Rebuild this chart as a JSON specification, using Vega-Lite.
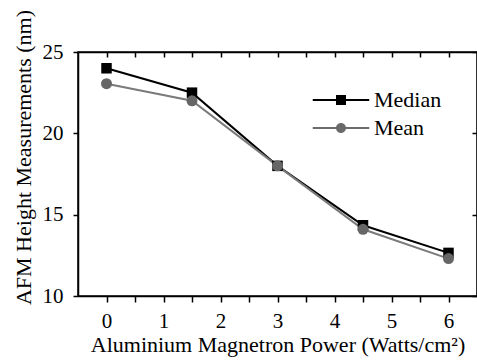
{
  "$schema": "https://vega.github.io/schema/vega-lite/v6.json",
  "autosize": "none",
  "width": 399,
  "height": 244,
  "padding": {"left": 78, "top": 52, "right": 0, "bottom": 65},
  "config": {
    "view": {"stroke": "black", "strokeWidth": 1.5},
    "font": "Liberation Serif",
    "axis": {"grid": false}
  },
  "data": {
    "values": [
      {"power": 0, "height": 24.0, "series": "Median"},
      {"power": 1.5, "height": 22.5, "series": "Median"},
      {"power": 3, "height": 18.0, "series": "Median"},
      {"power": 4.5, "height": 14.35, "series": "Median"},
      {"power": 6, "height": 12.65, "series": "Median"},
      {"power": 0, "height": 23.05, "series": "Mean"},
      {"power": 1.5, "height": 22.0, "series": "Mean"},
      {"power": 3, "height": 18.0, "series": "Mean"},
      {"power": 4.5, "height": 14.1, "series": "Mean"},
      {"power": 6, "height": 12.3, "series": "Mean"}
    ]
  },
  "layer": [
    {
      "mark": {"type": "line", "strokeWidth": 2},
      "encoding": {
        "x": {"field": "power", "type": "quantitative", "scale": {"domain": [-0.5, 6.5], "nice": false, "zero": false},
          "axis": {"orient": "bottom", "values": [0, 0.5, 1, 1.5, 2, 2.5, 3, 3.5, 4, 4.5, 5, 5.5, 6],
            "labelExpr": "datum.value % 1 === 0 ? format(datum.value, 'd') : ''", "tickSize": 6, "labelPadding": 8,
            "domainColor": "black", "domainWidth": 1.5, "tickColor": "black", "tickWidth": 1.5,
            "labelFont": "Liberation Serif", "labelFontSize": 21, "labelColor": "black",
            "titleFont": "Liberation Serif", "titleFontSize": 22, "titleFontWeight": "normal", "titleColor": "black",
            "title": "Aluminium Magnetron Power (Watts/cm²)", "titlePadding": 3}},
        "y": {"field": "height", "type": "quantitative", "scale": {"domain": [10, 25], "nice": false, "zero": false},
          "axis": {"orient": "left", "values": [10, 15, 20, 25], "tickSize": 5, "labelPadding": 10,
            "domainColor": "black", "domainWidth": 1.5, "tickColor": "black", "tickWidth": 1.5,
            "labelFont": "Liberation Serif", "labelFontSize": 21, "labelColor": "black",
            "titleFont": "Liberation Serif", "titleFontSize": 22, "titleFontWeight": "normal", "titleColor": "black",
            "title": "AFM Height Measurements (nm)", "titlePadding": 7, "titleY": 105}},
        "stroke": {"field": "series", "type": "nominal", "scale": {"domain": ["Median", "Mean"], "range": ["#000000", "#7a7a7a"]},
          "legend": {"orient": "none", "legendX": 252, "legendY": 37, "title": null, "symbolSize": 100,
            "labelOffset": 22, "labelFont": "Liberation Serif", "labelFontSize": 22, "labelColor": "black",
            "rowPadding": 6, "padding": 0, "symbolStrokeWidth": 0, "symbolOpacity": 1,
            "encode": {"symbols": {"update": {
              "shape": {"signal": "datum.value === 'Median' ? 'M-5.65,-0.2L5.65,-0.2L5.65,0.2L-5.65,0.2Z M-1,-1L1,-1L1,1L-1,1Z' : 'M-5.65,-0.2L5.65,-0.2L5.65,0.2L-5.65,0.2Z M-1,0A1,1 0 1,1 1,0A1,1 0 1,1 -1,0Z'"},
              "fill": {"signal": "datum.value === 'Median' ? '#000000' : '#6a6a6a'"},
              "fillOpacity": {"value": 1},
              "strokeWidth": {"value": 0}}}}}},
        "order": {"field": "power", "type": "quantitative"}
      }
    },
    {
      "transform": [{"filter": "datum.series === 'Median'"}],
      "mark": {"type": "point", "shape": "square", "filled": true, "fill": "#000000", "opacity": 1, "strokeWidth": 0, "size": 110},
      "encoding": {
        "x": {"field": "power", "type": "quantitative",
          "axis": {"orient": "top", "values": [0, 0.5, 1, 1.5, 2, 2.5, 3, 3.5, 4, 4.5, 5, 5.5, 6],
            "labels": true, "labelColor": "transparent", "labelFontSize": 2, "ticks": true, "domain": true, "tickSize": -5,
            "domainColor": "black", "domainWidth": 1.5, "tickColor": "black", "tickWidth": 1.5, "zindex": 2,
            "title": null}},
        "y": {"field": "height", "type": "quantitative",
          "axis": {"orient": "right", "values": [10, 15, 20, 25], "labels": true, "labelColor": "transparent", "labelFontSize": 2, "ticks": true, "domain": true, "tickSize": -5,
            "domainColor": "black", "domainWidth": 1.5, "tickColor": "black", "tickWidth": 1.5, "zindex": 2, "title": null}}
      }
    },
    {
      "transform": [{"filter": "datum.series === 'Mean'"}],
      "mark": {"type": "point", "shape": "circle", "filled": true, "fill": "#666666", "opacity": 1, "strokeWidth": 0, "size": 121},
      "encoding": {
        "x": {"field": "power", "type": "quantitative", "axis": null},
        "y": {"field": "height", "type": "quantitative", "axis": null}
      }
    }
  ],
  "resolve": {"axis": {"x": "independent", "y": "independent"}}
}
